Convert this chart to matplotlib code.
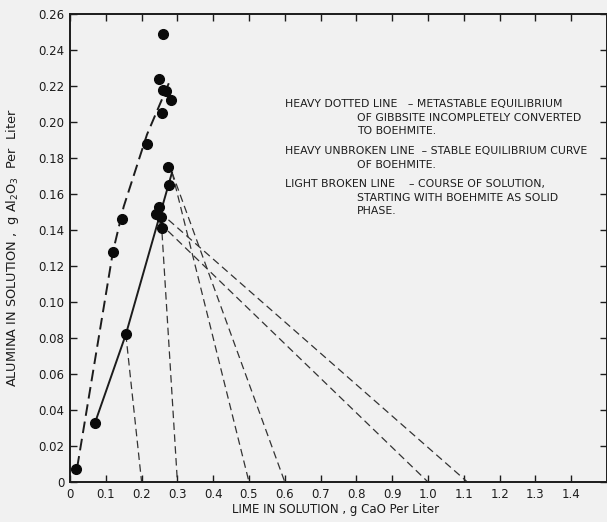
import matplotlib
matplotlib.use("Agg")
import matplotlib.pyplot as plt

# ---- data ----
# measured points, metastable (gibbsite) series
gib_x = [0.017, 0.12, 0.145, 0.215, 0.249, 0.26, 0.26, 0.268, 0.282, 0.257]
gib_y = [0.007, 0.128, 0.146, 0.188, 0.224, 0.249, 0.218, 0.217, 0.212, 0.205]
# measured points, boehmite series
boe_x = [0.07, 0.156, 0.274, 0.277, 0.249, 0.240, 0.254, 0.257]
boe_y = [0.033, 0.082, 0.175, 0.165, 0.153, 0.149, 0.147, 0.141]
# heavy dotted line (metastable curve)
meta_x = [0.02, 0.12, 0.15, 0.215, 0.277]
meta_y = [0.008, 0.128, 0.153, 0.193, 0.222]
# heavy unbroken line (stable curve)
stab_x = [0.07, 0.156, 0.285]
stab_y = [0.033, 0.082, 0.172]
# light broken lines: start point -> end point on x axis
course_x0 = [0.156, 0.255, 0.285, 0.285, 0.25, 0.25]
course_y0 = [0.082, 0.145, 0.172, 0.172, 0.144, 0.150]
course_x1 = [0.20, 0.30, 0.50, 0.60, 1.00, 1.11]
course_y1 = [0.0, 0.0, 0.0, 0.0, 0.0, 0.0]

x_ticks = [0, 0.1, 0.2, 0.3, 0.4, 0.5, 0.6, 0.7, 0.8, 0.9, 1.0, 1.1, 1.2, 1.3, 1.4]
x_labels = ["0", "0.1", "0.2", "0.3", "0.4", "0.5", "0.6", "0.7", "0.8", "0.9",
            "1.0", "1.1", "1.2", "1.3", "1.4"]
y_ticks = [0, 0.02, 0.04, 0.06, 0.08, 0.10, 0.12, 0.14, 0.16, 0.18, 0.20, 0.22, 0.24, 0.26]
y_labels = ["0", "0.02", "0.04", "0.06", "0.08", "0.10", "0.12", "0.14", "0.16",
            "0.18", "0.20", "0.22", "0.24", "0.26"]

notes = [
    ("HEAVY DOTTED LINE   \u2013 METASTABLE EQUILIBRIUM", 0),
    ("OF GIBBSITE INCOMPLETELY CONVERTED", 1),
    ("TO BOEHMITE.", 1),
    ("HEAVY UNBROKEN LINE  \u2013 STABLE EQUILIBRIUM CURVE", 0),
    ("OF BOEHMITE.", 1),
    ("LIGHT BROKEN LINE    \u2013 COURSE OF SOLUTION,", 0),
    ("STARTING WITH BOEHMITE AS SOLID", 1),
    ("PHASE.", 1),
]
note_y = [104, 118, 131, 151, 165, 184, 198, 211]

# ---- figure ----
BG = "#f1f1f1"
INK = "#1c1c1c"
plt.rcParams["font.family"] = ["DejaVu Sans"]
fig = plt.figure(figsize=(6.07, 5.22), dpi=100, facecolor=BG)
ax = fig.add_axes([70 / 607, 40 / 522, 537 / 607, 468 / 522])
ax.set_facecolor(BG)

ax.set_xlim(0, 1.5)
ax.set_ylim(0, 0.26)

for x0, y0, x1, y1 in zip(course_x0, course_y0, course_x1, course_y1):
    ax.plot([x0, x1], [y0, y1], color="#333333", lw=0.9, dashes=(6, 3.5), zorder=2)

ax.plot(meta_x, meta_y, color=INK, lw=1.4, dashes=(6, 3), zorder=3)
ax.plot(stab_x, stab_y, color=INK, lw=1.4, zorder=3)

ax.plot(gib_x, gib_y, "o", color="#0a0a0a", ms=7, zorder=4)
ax.plot(boe_x, boe_y, "o", color="#0a0a0a", ms=7, zorder=4)

ax.set_xticks(x_ticks)
ax.set_xticklabels(x_labels)
ax.set_yticks(y_ticks)
ax.set_yticklabels(y_labels)
ax.tick_params(direction="in", length=5, width=1, color=INK, labelcolor=INK,
               labelsize=8.5, top=True, right=True, pad=4)

for s in ax.spines.values():
    s.set_linewidth(1.4)
    s.set_color(INK)

ax.set_xlabel("LIME IN SOLUTION , g CaO Per Liter", fontsize=8.5, color=INK, va="center")
ax.xaxis.set_label_coords((336 - 70) / 537, (482 - 510) / 468)
ax.set_ylabel("ALUMINA IN SOLUTION ,  g Al$_2$O$_3$  Per  Liter", fontsize=9.3,
              color=INK, va="center")
ax.yaxis.set_label_coords((13 - 70) / 537, (482 - 248) / 468)

for (txt, indent), yp in zip(notes, note_y):
    xp = 285 if indent == 0 else 357
    fig.text(xp / 607, 1 - yp / 522, txt, fontsize=7.8, color=INK, va="center", ha="left")

fig.savefig("out.png", dpi=100, facecolor=BG)
